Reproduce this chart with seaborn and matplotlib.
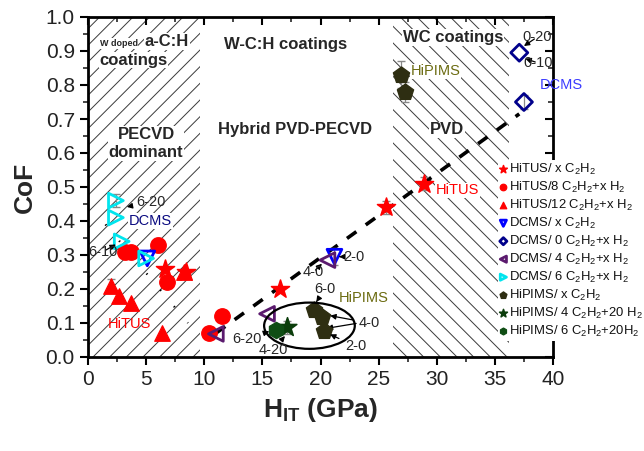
import numpy as np
import pandas as pd
import matplotlib
matplotlib.use("Agg")
import matplotlib.pyplot as plt
from matplotlib.patches import Ellipse
import seaborn as sns

# ---------------- data ----------------
hitus_x_x = [6.6, 8.4, 16.5, 25.6, 28.9]
hitus_x_y = [0.26, 0.25, 0.20, 0.44, 0.51]

hitus8_x = [3.2, 3.7, 6.0, 6.8, 10.4, 11.5]
hitus8_y = [0.31, 0.31, 0.33, 0.22, 0.07, 0.12]

hitus12_x = [2.0, 2.7, 3.7, 6.4, 8.3]
hitus12_y = [0.21, 0.18, 0.16, 0.07, 0.25]

dcms_x_x = [5.1, 21.2]
dcms_x_y = [0.29, 0.295]

dcms0_x = [37.1, 37.5]
dcms0_y = [0.895, 0.75]

dcms4_x = [11.0, 15.4, 20.6]
dcms4_y = [0.068, 0.127, 0.285]

dcms6_x = [2.4, 2.4, 2.9, 5.0]
dcms6_y = [0.46, 0.41, 0.34, 0.29]

hipims_x_x = [26.9, 27.3, 19.4, 20.1, 20.3]
hipims_x_y = [0.83, 0.78, 0.138, 0.118, 0.076]

hipims4_x = [17.1]
hipims4_y = [0.087]

hipims6_x = [16.2]
hipims6_y = [0.08]

trend_x = [11.0, 37.1]
trend_y = [0.07, 0.715]

guide_x = [1.5, 8.6]
guide_y = [0.39, 0.10]

err_x = [25.6, 28.9, 6.0, 2.0, 21.2, 37.5, 26.9, 27.3, 20.3, 17.1, 2.4]
err_y = [0.44, 0.51, 0.33, 0.21, 0.295, 0.75, 0.83, 0.78, 0.076, 0.087, 0.46]
err_e = [0.02, 0.02, 0.02, 0.02, 0.025, 0.02, 0.04, 0.03, 0.018, 0.02, 0.02]

xticks = [0, 5, 10, 15, 20, 25, 30, 35, 40]
yticks = [0.0, 0.1, 0.2, 0.3, 0.4, 0.5, 0.6, 0.7, 0.8, 0.9, 1.0]

# ---------------- style ----------------
sns.set_theme(style="ticks")
plt.rcParams['font.family'] = ['Liberation Sans', 'DejaVu Sans']
plt.rcParams['mathtext.fontset'] = 'custom'
plt.rcParams['mathtext.rm'] = 'Liberation Sans'
plt.rcParams['mathtext.it'] = 'Liberation Sans:italic'
plt.rcParams['mathtext.bf'] = 'Liberation Sans:bold'
plt.rcParams['hatch.linewidth'] = 0.7
plt.rcParams['hatch.color'] = '#3a3a3a'

fig = plt.figure(figsize=(6.44, 4.51), dpi=100)
ax = fig.add_axes([88/644, 1-357/451, 465/644, 340/451])

# hatched regions
ax.axvspan(0, 9.6, facecolor='white', edgecolor='#3a3a3a', hatch='//', linewidth=0, zorder=0)
ax.axvspan(26.2, 36.2, facecolor='white', edgecolor='#3a3a3a', hatch='\\\\', linewidth=0, zorder=0)

# trend & guide lines
sns.lineplot(x=trend_x, y=trend_y, ax=ax, color='black', lw=2.6, dashes=False, zorder=2)
ax.lines[-1].set_dashes([3.2, 3.2])
sns.lineplot(x=guide_x, y=guide_y, ax=ax, color='black', lw=1.6, zorder=2)
ax.lines[-1].set_dashes([0.6, 9])

# error bars
ax.errorbar(err_x, err_y, yerr=err_e, fmt='none', ecolor='#888888', elinewidth=0.9, capsize=3, zorder=3)

S = 125
series = [
    (hitus_x_x, hitus_x_y, '*', dict(color='red', edgecolor='red'), S*1.5, r"HiTUS/ x C$_2$H$_2$"),
    (hitus8_x, hitus8_y, 'o', dict(color='red', edgecolor='red'), S, r"HiTUS/8 C$_2$H$_2$+x H$_2$"),
    (hitus12_x, hitus12_y, '^', dict(color='red', edgecolor='red'), S, r"HiTUS/12 C$_2$H$_2$+x H$_2$"),
    (dcms_x_x, dcms_x_y, 'v', dict(facecolor='none', edgecolor='#0000ff', linewidth=2), S*0.9, r"DCMS/ x C$_2$H$_2$"),
    (dcms0_x, dcms0_y, 'D', dict(facecolor='none', edgecolor='#00008b', linewidth=2), S*0.6, r"DCMS/ 0 C$_2$H$_2$+x H$_2$"),
    (dcms4_x, dcms4_y, '<', dict(facecolor='none', edgecolor='#5b1a6e', linewidth=2), S*0.9, r"DCMS/ 4 C$_2$H$_2$+x H$_2$"),
    (dcms6_x, dcms6_y, '>', dict(facecolor='none', edgecolor='#00e5ee', linewidth=2), S*0.9, r"DCMS/ 6 C$_2$H$_2$+x H$_2$"),
    (hipims_x_x, hipims_x_y, 'p', dict(color='#2e2e12', edgecolor='#2e2e12'), S*1.2, r"HiPIMS/ x C$_2$H$_2$"),
    (hipims4_x, hipims4_y, '*', dict(color='#0b3d0b', edgecolor='#0b3d0b'), S*1.6, r"HiPIMS/ 4 C$_2$H$_2$+20 H$_2$"),
    (hipims6_x, hipims6_y, 'h', dict(color='#0f4d14', edgecolor='#0f4d14'), S*1.1, r"HiPIMS/ 6 C$_2$H$_2$+20H$_2$"),
]
for xs, ys, m, kw, s, lab in series:
    sns.scatterplot(x=xs, y=ys, marker=m, s=s, ax=ax, label=lab, zorder=4, **kw)

# ellipse
ax.add_patch(Ellipse((19.05, 0.092), 7.8, 0.136, fill=False, edgecolor='black', lw=1.6, zorder=5))

# axes
ax.set_xlim(0, 40)
ax.set_ylim(0, 1.0)
ax.set_xticks(xticks)
ax.set_yticks(yticks)
ax.set_xticklabels([str(t) for t in xticks])
ax.set_yticklabels([f"{t:.1f}" for t in yticks])
ax.set_xticks(np.arange(2.5, 40, 5), minor=True)
ax.set_yticks(np.arange(0.05, 1.0, 0.1), minor=True)
for sp in ax.spines.values():
    sp.set_visible(True)
    sp.set_linewidth(2)
    sp.set_color('black')
ax.tick_params(axis='both', which='major', direction='out', length=6, width=1.5, labelsize=15, colors='black', labelcolor='#222222')
ax.tick_params(axis='both', which='minor', direction='out', length=3.5, width=1.2)
ax.tick_params(top=True, right=True, which='both')
for t in ax.xaxis.get_major_ticks() + ax.xaxis.get_minor_ticks():
    t.tick2line.set_marker(3)  # inward on top
for t in ax.yaxis.get_major_ticks() + ax.yaxis.get_minor_ticks():
    t.tick2line.set_marker(0)
ax.set_xlabel(r"H$_\mathbf{IT}$ (GPa)", fontsize=19, fontweight='bold', labelpad=5)
ax.set_ylabel("CoF", fontsize=19, fontweight='bold', labelpad=6)
ax.grid(False)

# region labels
wb = dict(facecolor='white', edgecolor='none', pad=0.5)
ax.text(1.0, 0.915, "W doped", fontsize=6.5, fontweight='bold', va='baseline', bbox=wb)
ax.text(4.9, 0.915, "a-C:H", fontsize=12, fontweight='bold', va='baseline', bbox=wb)
ax.text(1.0, 0.86, "coatings", fontsize=12, fontweight='bold', va='baseline', bbox=wb)
ax.text(17.0, 0.92, "W-C:H coatings", fontsize=12, fontweight='bold', ha='center', va='center')
ax.text(31.4, 0.94, "WC coatings", fontsize=12, fontweight='bold', ha='center', va='center', bbox=wb)
ax.text(5.0, 0.628, "PECVD\ndominant", fontsize=12, fontweight='bold', ha='center', va='center', linespacing=1.25, bbox=wb)
ax.text(17.8, 0.668, "Hybrid PVD-PECVD", fontsize=12, fontweight='bold', ha='center', va='center')
ax.text(30.9, 0.668, "PVD", fontsize=12, fontweight='bold', ha='center', va='center', bbox=wb)

# group labels
ax.text(5.4, 0.40, "DCMS", fontsize=10.5, color='#0a0a80', ha='center', va='center', bbox=wb)
ax.text(3.6, 0.097, "HiTUS", fontsize=10.5, color='red', ha='center', va='center')
ax.text(31.8, 0.49, "HiTUS", fontsize=10.5, color='red', ha='center', va='center', bbox=wb)
ax.text(29.9, 0.84, "HiPIMS", fontsize=10.5, color='#6b6b10', ha='center', va='center', bbox=wb)
ax.text(23.7, 0.175, "HiPIMS", fontsize=10.5, color='#6b6b10', ha='center', va='center')
ax.text(40.7, 0.80, "DCMS", fontsize=10.5, color='#3b3bff', ha='center', va='center', clip_on=False)

arr = dict(arrowstyle='-|>', color='black', lw=0.9, mutation_scale=8)
def note(txt, xy, xyt, **k):
    ax.annotate(txt, xy=xy, xytext=xyt, fontsize=10.5, ha='center', va='center',
                arrowprops=arr, annotation_clip=False, zorder=6, **k)

note("6-20", (3.1, 0.44), (5.4, 0.455))
note("6-10", (2.6, 0.335), (1.3, 0.31))
note("4-0", (20.3, 0.28), (19.4, 0.25))
note("2-0", (21.6, 0.295), (22.9, 0.295))
note("6-0", (19.5, 0.155), (20.4, 0.20))
note("4-0", (20.6, 0.123), (24.2, 0.10))
ax.annotate("", xy=(20.3, 0.083), xytext=(23.3, 0.10), arrowprops=arr)
note("2-0", (20.6, 0.07), (23.0, 0.032))
note("6-20", (15.8, 0.078), (13.7, 0.053))
note("4-20", (17.1, 0.068), (15.9, 0.02))
note("0-20", (37.3, 0.91), (38.6, 0.94))
note("0-10", (37.4, 0.88), (38.7, 0.865))

# legend
leg = ax.legend(loc='upper left', bbox_to_anchor=(0.882, 0.58), frameon=True, fontsize=9.4,
                markerscale=0.42, handlelength=0.5, handletextpad=0.15, labelspacing=0.22,
                borderaxespad=0, borderpad=0.15, fancybox=False, framealpha=1)
leg.get_frame().set_facecolor('white')
leg.get_frame().set_edgecolor('none')
leg.set_zorder(10)
for t in leg.get_texts():
    t.set_color('#111111')

fig.savefig("out.png", dpi=100)
